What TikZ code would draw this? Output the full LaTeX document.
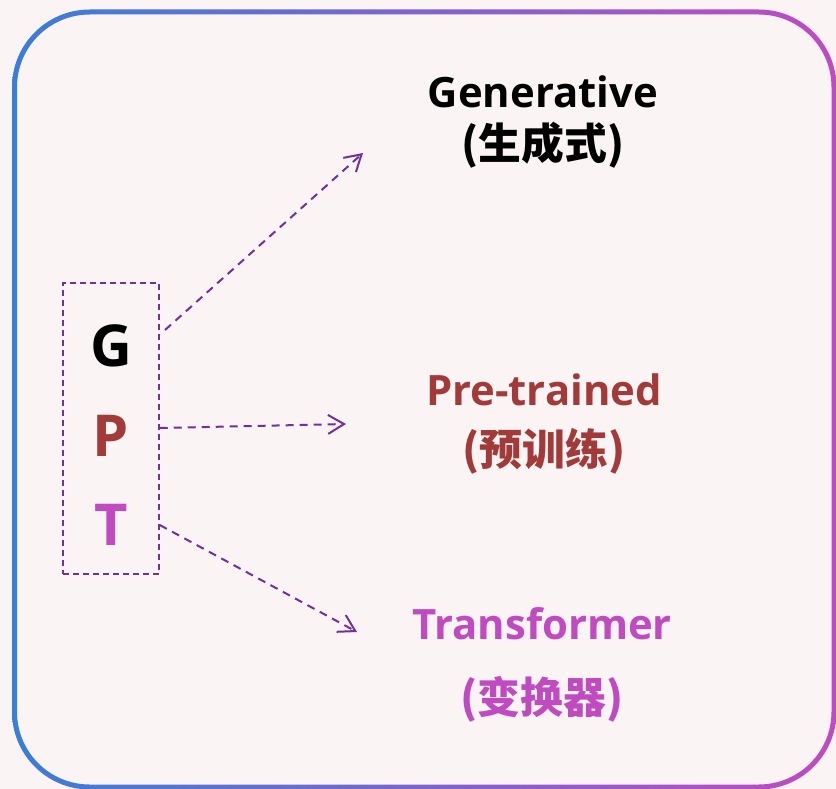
\documentclass[tikz,border=0pt]{standalone}
\usepackage{fontspec}
\setmainfont{Open Sans}
\newfontfamily\cjk{Noto Sans CJK SC}
\usetikzlibrary{arrows.meta}
\definecolor{bgpink}{HTML}{FAF4F4}
\definecolor{frameblue}{HTML}{3A7ED8}
\definecolor{framemagenta}{HTML}{C04AC2}
\definecolor{dashpurple}{HTML}{7030A0}
\definecolor{ptred}{HTML}{A33A3A}
\definecolor{tmagenta}{HTML}{C04AC0}
\tikzset{
  letter/.style={font=\fontsize{58}{60}\selectfont\bfseries},
  term/.style={anchor=base, font=\fontsize{42}{46}\selectfont\bfseries},
  termzh/.style={anchor=base, font=\fontsize{43}{46}\selectfont\bfseries\cjk},
  arrow/.style={draw=dashpurple, line width=2bp, dash pattern=on 8bp off 6bp,
    -{Straight Barb[length=16bp,width=19bp,line width=2bp]}},
}
\begin{document}
\begin{tikzpicture}[x=1bp,y=-1bp]
\useasboundingbox (0,0) rectangle (836,789);
\fill[bgpink] (0,0) rectangle (836,789);
\shade[left color=frameblue, right color=framemagenta, even odd rule, rounded corners=78]
  (12,9.5) rectangle (836.5,789.5) [rounded corners=73] (17,14.5) rectangle (831.5,784.5);

\node[draw=dashpurple, line width=1.5bp, dash pattern=on 6bp off 4bp, minimum width=96bp, minimum height=291bp] (box) at (111,428.5) {};
\node[letter] (g) at (111,346) {G};
\node[letter, text=ptred] (p) at (111,436) {P};
\node[letter, text=tmagenta] (t) at (111,525) {T};

\node[term] (gen) at (543,107) {Generative};
\node[termzh] (genzh) at (543,159) {(生成式)};
\node[term, text=ptred] (pre) at (544,405) {Pre-trained};
\node[termzh, text=ptred] (prezh) at (544,465) {(预训练)};
\node[term, text=tmagenta] (tra) at (542,639) {Transformer};
\node[termzh, text=tmagenta] (trazh) at (542,713) {(变换器)};

\coordinate (gOut) at (165,330);
\coordinate (gTip) at (363,153);
\coordinate (pTip) at (346,424);
\coordinate (tTip) at (357,632);

\path[arrow] (gOut) -- (gTip);
\path[arrow] (box.east |- 0,428) -- (pTip);
\path[arrow] (box.east |- 0,525) -- (tTip);
\end{tikzpicture}
\end{document}
